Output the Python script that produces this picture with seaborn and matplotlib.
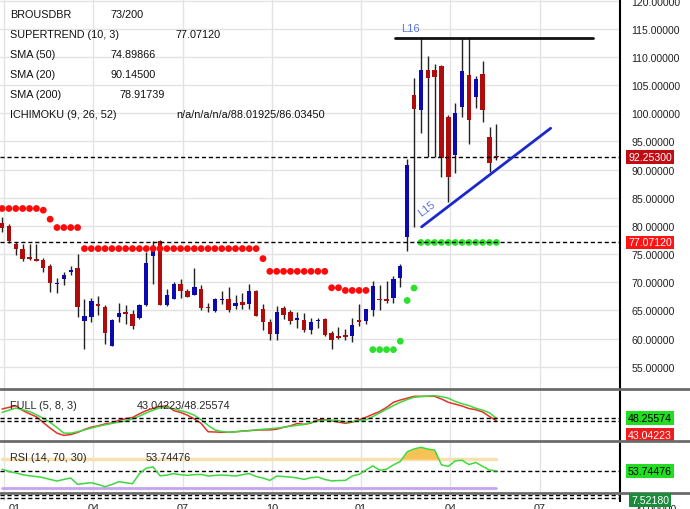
import numpy as np
import matplotlib
matplotlib.use("Agg")
import matplotlib.pyplot as plt
import matplotlib.transforms as mtransforms
from matplotlib.lines import Line2D
import seaborn as sns

# weekly candles (73 of them)
opens = [80.48, 79.95, 76.87, 75.98, 74.38, 74.07, 73.89, 72.90, 69.62, 70.64,
         71.76, 72.59, 63.21, 63.92, 66.18, 65.65, 58.76, 63.92, 64.81, 64.40,
         63.64, 66.00, 74.61, 77.28, 65.88, 67.07, 69.74, 68.44, 67.66, 68.85,
         65.65, 64.94, 66.90, 67.07, 65.70, 66.54, 66.18, 68.50, 65.17, 62.92,
         60.84, 65.47, 64.76, 63.39, 63.33, 61.61, 63.10, 63.51, 61.02, 60.36,
         60.54, 60.54, 63.21, 63.21, 64.99, 67.07, 66.95, 67.20, 70.76, 78.06,
         103.28, 100.61, 107.62, 107.62, 108.34, 99.43, 92.59, 101.09, 106.73, 102.87,
         106.97, 95.75, 92.40]
highs = [81.62, 80.31, 77.17, 76.87, 76.87, 76.87, 74.38, 73.31, 70.81, 71.83,
         72.90, 75.09, 67.07, 67.25, 67.55, 66.00, 63.51, 66.36, 65.88, 64.99,
         66.18, 75.39, 77.35, 77.58, 68.85, 70.05, 70.64, 68.85, 72.54, 69.57,
         66.36, 67.25, 68.37, 69.16, 67.79, 68.14, 69.74, 68.68, 66.18, 63.51,
         65.77, 65.77, 64.99, 64.70, 64.58, 63.64, 63.74, 63.64, 61.43, 62.03,
         61.73, 63.64, 66.18, 65.29, 70.23, 69.44, 70.15, 71.12, 73.31, 91.83,
         106.25, 113.38, 110.12, 108.75, 108.62, 99.72, 101.80, 113.38, 113.38, 106.56,
         109.33, 97.65, 98.06]
lows = [78.95, 77.05, 74.78, 73.72, 73.89, 73.72, 71.83, 68.27, 68.14, 69.44,
        71.22, 63.81, 58.17, 63.03, 64.22, 59.06, 58.65, 62.92, 62.62, 61.73,
        63.51, 65.70, 69.74, 65.88, 65.77, 66.95, 67.20, 67.38, 67.66, 65.11,
        64.70, 64.81, 66.18, 64.81, 65.29, 65.29, 65.29, 63.99, 61.61, 59.83,
        59.83, 63.51, 62.62, 61.91, 61.25, 60.84, 61.91, 60.54, 58.17, 59.95,
        59.77, 59.47, 62.32, 62.62, 64.10, 64.99, 66.36, 66.36, 69.16, 75.50,
        79.84, 96.46, 92.31, 92.31, 88.75, 84.29, 89.33, 99.43, 94.50, 100.91,
        98.54, 89.51, 91.70]
closes = [79.66, 77.28, 75.98, 74.20, 74.20, 73.72, 72.59, 69.92, 69.87, 71.35,
          72.11, 65.60, 64.05, 66.72, 65.77, 61.07, 63.33, 64.58, 64.28, 62.32,
          66.00, 73.48, 75.57, 66.00, 67.79, 69.74, 68.44, 67.38, 69.09, 65.47,
          65.47, 67.07, 67.07, 65.11, 66.36, 65.88, 68.50, 64.10, 63.03, 60.84,
          64.76, 64.22, 63.21, 63.51, 61.61, 62.92, 63.39, 60.66, 59.83, 60.18,
          60.36, 62.44, 63.03, 65.17, 69.33, 66.90, 66.72, 70.64, 72.83, 90.81,
          100.79, 107.62, 106.25, 106.43, 92.01, 88.62, 100.02, 107.45, 98.83, 106.13,
          100.61, 91.12, 92.253]

supertrend = [83.10, 83.10, 83.10, 83.10, 83.10, 83.10, 82.80, 81.20, 79.72, 79.72,
              79.72, 79.72, 75.98, 75.98, 75.98, 75.98, 75.98, 75.98, 75.98, 75.98,
              75.98, 75.98, 75.98, 75.98, 75.98, 75.98, 75.98, 75.98, 75.98, 75.98,
              75.98, 75.98, 75.98, 75.98, 75.98, 75.98, 75.98, 75.98, 74.20, 71.94,
              71.94, 71.94, 71.94, 71.94, 71.94, 71.94, 71.94, 71.94, 69.03, 69.03,
              68.55, 68.55, 68.55, 68.55, 58.04, 58.04, 58.04, 58.04, 59.54, 66.77,
              68.98, 77.0712, 77.0712, 77.0712, 77.0712, 77.0712, 77.0712, 77.0712, 77.0712, 77.0712,
              77.0712, 77.0712, 77.0712]

stoch_k = [68.5, 72, 75.5, 65.3, 58, 51.5, 39, 27, 16, 11,
           13, 17.5, 24, 29, 32, 36, 38, 44, 47.5, 50,
           58, 65, 70, 74, 75.7, 65, 61, 55, 47, 37,
           19, 18.5, 17.8, 17.8, 19, 20.5, 21.5, 22.5, 23, 23,
           24.5, 28.7, 32, 37, 35, 38, 45, 45.5, 43, 40,
           37.4, 40, 45, 50.5, 57, 63, 72, 83, 88, 92,
           96, 96.1, 96.1, 96, 90.2, 83, 79, 75, 69.5, 67,
           62, 52, 43.04223]
stoch_d = [61, 66, 70.5, 67, 63, 56, 48, 39.5, 28, 16,
           16, 19, 23, 27, 31, 34, 37, 40, 42.5, 47,
           53, 60, 66, 71, 72.2, 69, 65, 61, 55, 45,
           33, 23, 19.5, 18, 19, 20, 21.5, 23, 24.5, 25.5,
           27, 28.7, 31, 33, 35, 39, 42, 44.5, 44, 43.5,
           40, 41, 43, 45, 52, 60, 68, 76, 83, 89,
           94, 95.5, 96.5, 97.4, 95.5, 92, 85, 80, 76, 70,
           66, 60, 48.25574]

rsi = [56, 53, 51, 48.5, 47, 46, 44.5, 42, 39.8, 42,
       44, 35.2, 36.5, 37.5, 35, 32, 35, 38.9, 37.5, 36.1,
       50, 57.5, 59.3, 47, 48, 50, 48.5, 47.7, 48.5, 49,
       46.7, 47.5, 48.1, 47.5, 46.7, 48.5, 50.1, 46, 44, 40.7,
       46.7, 46, 45.3, 44, 42.1, 44.5, 45.3, 42, 40, 40.5,
       40.7, 46.7, 49, 55, 60.7, 54.7, 56.1, 62, 66.8, 80,
       84, 86.3, 83.9, 82.5, 62.1, 60, 67.6, 68.5, 62.5, 65.4,
       60, 55, 53.74476]
rsi_upper, rsi_lower = 70, 30

# drawn trend lines (week index, price)
l15_x, l15_y = [61.1, 79.9], [79.84, 97.35]
l16_x, l16_y = [57.2, 86.0], [113.4, 113.4]

quarter_ticks = [0.3, 13.3, 26.3, 39.3, 52.3, 65.3, 78.3]
quarter_labels = ["01", "04", "07", "10", "01", "04", "07"]
price_ticks = list(range(55, 125, 5))

legend_rows = [("BROUSDBR", "73/200", 111),
               ("SUPERTREND (10, 3)", "77.07120", 176),
               ("SMA (50)", "74.89866", 111),
               ("SMA (20)", "90.14500", 111),
               ("SMA (200)", "78.91739", 120),
               ("ICHIMOKU (9, 26, 52)", "n/a/n/a/n/a/88.01925/86.03450", 176)]

sns.set_style("white")
plt.rcParams["font.family"] = ["Liberation Sans", "DejaVu Sans"]
plt.rcParams["font.size"] = 7.8

W, H = 690, 510
weeks = np.arange(len(closes))
o, h, l, c = map(np.array, (opens, highs, lows, closes))
st = np.array(supertrend)

fig = plt.figure(figsize=(6.9, 5.1), dpi=100)
fw = 620 / W
ax = fig.add_axes([0, 1 - 390 / H, fw, 390 / H])
ax_sto = fig.add_axes([0, 1 - 442 / H, fw, 52 / H], sharex=ax)
ax_rsi = fig.add_axes([0, 1 - 493.5 / H, fw, 51.5 / H], sharex=ax)
ax_bot = fig.add_axes([0, 1 - 501.5 / H, fw, 8 / H], sharex=ax)

grid_c = "#e3e3e3"
dash = (0, (3, 2))
for a in (ax, ax_sto, ax_rsi, ax_bot):
    for s in ("top", "bottom", "left"):
        a.spines[s].set_visible(False)
    a.spines["right"].set_color("black")
    a.spines["right"].set_linewidth(1.5)
    a.set_xlim(-0.3, 90.0)
    for q in quarter_ticks:
        a.axvline(q, color=grid_c, lw=1, zorder=0)
    a.set_xlabel("")
    a.set_ylabel("")

# ---- main price panel
for p in price_ticks:
    ax.axhline(p, color=grid_c, lw=1, zorder=0)
ax.set_ylim(51.05, 120.3)
ax.yaxis.tick_right()
ax.set_yticks(price_ticks)
ax.set_yticklabels([f"{p:.5f}" for p in price_ticks])
ax.tick_params(axis="y", length=0, pad=8, labelsize=7.6, labelcolor="#222")
ax.tick_params(axis="x", length=0, labelbottom=False)

up = c >= o
body_lo = np.minimum(o, c)
body_h = np.maximum(np.abs(c - o), 0.2)
ax.vlines(weeks, l, h, color="#222222", lw=1, zorder=2)
ax.bar(weeks, body_h, bottom=body_lo, width=0.64,
       color=np.where(up, "#0a0ab0", "#b00c0c"), linewidth=0, zorder=3)

trend = np.where(st < c, "up", "down")
sns.scatterplot(x=weeks, y=st, hue=trend, palette={"up": "#2ee02e", "down": "#ff0a0a"},
                s=24, linewidth=0, legend=False, ax=ax, zorder=4)

ax.axhline(closes[-1], color="black", lw=1, ls=dash, zorder=5)
ax.axhline(supertrend[-1], color="black", lw=1, ls=dash, zorder=5)
ax.plot(l16_x, l16_y, color="#111111", lw=2, zorder=5)
ax.plot(l15_x, l15_y, color="#1a28cc", lw=2, zorder=5)
fig.text(401 / W, 1 - 29 / H, "L16", color="#5a78dc", fontsize=8, va="center")
fig.text(427 / W, 1 - 209 / H, "L15", color="#5a78dc", fontsize=8,
         va="center", ha="center", rotation=37)
ax.set_xlabel("")
ax.set_ylabel("")

blend = mtransforms.blended_transform_factory(ax.transAxes, ax.transData)
box = dict(boxstyle="square,pad=0.18", ec="none")
ax.text(1.013, closes[-1], f"{closes[-1]:.5f}", transform=blend, va="center",
        color="white", fontsize=7.6, clip_on=False, bbox=dict(box, fc="#c00d14"), zorder=6)
ax.text(1.013, supertrend[-1], f"{supertrend[-1]:.5f}", transform=blend, va="center",
        color="white", fontsize=7.6, clip_on=False, bbox=dict(box, fc="#ff1414"), zorder=6)

for r, (name, val, vx) in enumerate(legend_rows):
    y = 1 - (15 + 20 * r) / H
    fig.text(10 / W, y, name, va="center", color="#111")
    fig.text(vx / W, y, val, va="center", color="#111")

# ---- full stochastic panel
sns.lineplot(x=weeks, y=stoch_k, ax=ax_sto, color="#e8302a", lw=1.1)
sns.lineplot(x=weeks, y=stoch_d, ax=ax_sto, color="#3fd83f", lw=1.1)
ax_sto.set_ylim(-1.1, 112)
ax_sto.axhline(stoch_d[-1], color="black", lw=1, ls=dash)
ax_sto.axhline(stoch_k[-1], color="black", lw=1, ls=dash)
ax_sto.set_yticks([])
ax_sto.tick_params(axis="x", length=0, labelbottom=False)
ax_sto.set_xlabel("")
ax_sto.text(0.016, 0.70, "FULL (5, 8, 3)", transform=ax_sto.transAxes, va="center")
ax_sto.text(137 / 620, 0.70, f"{stoch_k[-1]:.5f}/{stoch_d[-1]:.5f}",
            transform=ax_sto.transAxes, va="center")
bl = mtransforms.blended_transform_factory(ax_sto.transAxes, ax_sto.transData)
ax_sto.text(1.013, stoch_d[-1], f"{stoch_d[-1]:.5f}", transform=bl, va="center",
            color="black", fontsize=7.6, clip_on=False, bbox=dict(box, fc="#22dd22"))
ax_sto.text(1.013, stoch_k[-1], f"{stoch_k[-1]:.5f}", va="center", color="white",
            fontsize=7.6, clip_on=False, bbox=dict(box, fc="#ee1c1c"),
            transform=bl + mtransforms.ScaledTranslation(0, -0.145, fig.dpi_scale_trans))

# ---- RSI panel
r = np.array(rsi)
ax_rsi.plot([weeks[0], weeks[-1]], [rsi_upper, rsi_upper], color="#f7e1b0", lw=2.5, zorder=1)
ax_rsi.plot([weeks[0], weeks[-1]], [rsi_lower, rsi_lower], color="#c6a2f2", lw=2, zorder=1)
ax_rsi.fill_between(weeks, r, rsi_upper, where=r > rsi_upper, interpolate=True,
                    color="#f7c256", lw=0, zorder=2)
sns.lineplot(x=weeks, y=rsi, ax=ax_rsi, color="#3ed83e", lw=1.1, zorder=3)
ax_rsi.axhline(rsi[-1], color="black", lw=1, ls=dash)
ax_rsi.set_ylim(24, 95)
ax_rsi.set_yticks([])
ax_rsi.tick_params(axis="x", length=0, labelbottom=False)
ax_rsi.set_xlabel("")
ax_rsi.text(0.016, 0.69, "RSI (14, 70, 30)", transform=ax_rsi.transAxes, va="center")
ax_rsi.text(146 / 620, 0.69, f"{rsi[-1]:.5f}", transform=ax_rsi.transAxes, va="center")
br = mtransforms.blended_transform_factory(ax_rsi.transAxes, ax_rsi.transData)
ax_rsi.text(1.013, rsi[-1], f"{rsi[-1]:.5f}", transform=br, va="center", color="black",
            fontsize=7.6, clip_on=False, bbox=dict(box, fc="#22dd22"))

# ---- bottom (cut-off) panel
ax_bot.set_ylim(0, 12)
ax_bot.axhline(7.5218, color="black", lw=1, ls=dash)
ax_bot.axhline(4.2, color="black", lw=1, ls=dash)
ax_bot.set_yticks([])
ax_bot.set_xticks(quarter_ticks)
ax_bot.set_xticklabels(quarter_labels)
ax_bot.tick_params(axis="x", length=0, pad=1.5, labelsize=7.8, labelcolor="#222")
first = ax_bot.get_xticklabels()[0]
first.set_transform(first.get_transform() + mtransforms.ScaledTranslation(0.11, 0, fig.dpi_scale_trans))
fig.text(633 / W, 1 - 510 / H, "20.00000", va="center", fontsize=7.6, color="#222")
fig.text(631 / W, 1 - 501 / H, "7.52180", va="center", color="white", fontsize=7.6,
         bbox=dict(box, fc="#1b8c3c"))

# panel separators
for yy in (390, 442, 493.5):
    fig.add_artist(Line2D([0, 1], [1 - yy / H] * 2, transform=fig.transFigure,
                          color="#6b6b6b", lw=2))

fig.savefig("out.png", dpi=100, facecolor="white")
